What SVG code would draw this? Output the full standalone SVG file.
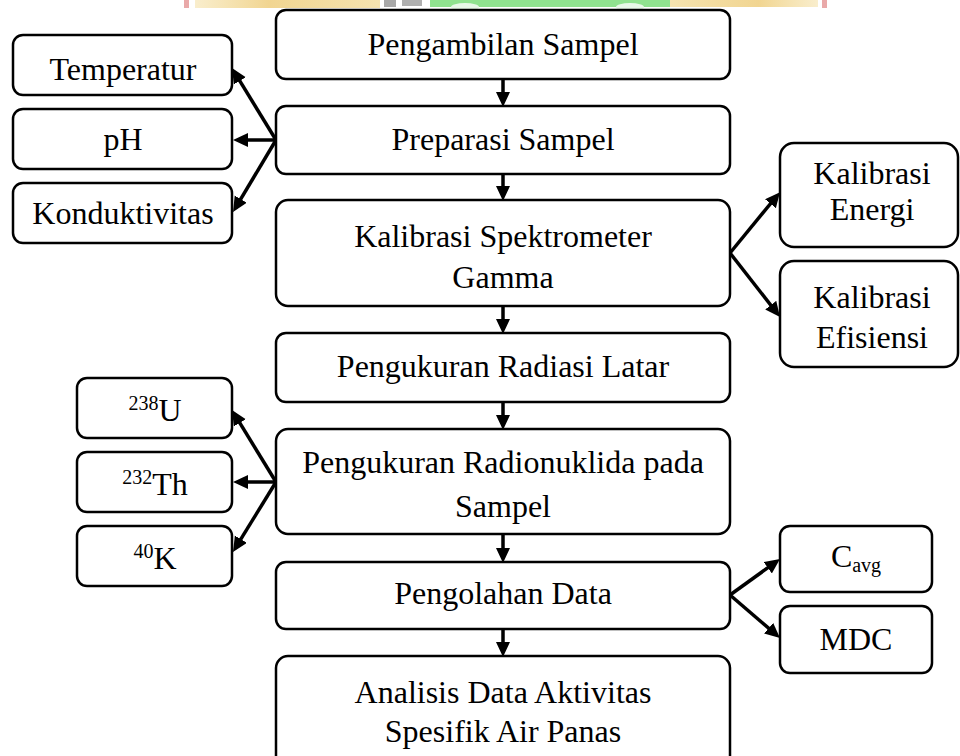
<svg xmlns="http://www.w3.org/2000/svg" width="960" height="756" viewBox="0 0 960 756">
<defs>
<style>
.box{fill:#fff;stroke:#000;stroke-width:2.5}
.t{font-family:"Liberation Serif","Times New Roman",serif;font-size:32px;fill:#000;text-anchor:middle}
.c{stroke:#000;stroke-width:3.5;fill:none;marker-end:url(#ah)}
</style>
<marker id="ah" markerUnits="userSpaceOnUse" markerWidth="15" markerHeight="15" refX="10" refY="7" orient="auto">
<path d="M0,0 L15,7 L0,14 z" fill="#000"/>
</marker>
<linearGradient id="tan1" x1="0" x2="1" y1="0" y2="0">
<stop offset="0" stop-color="#f3dc9a" stop-opacity="0.5"/>
<stop offset="0.4" stop-color="#f1d591"/>
<stop offset="1" stop-color="#f5e3b0"/>
</linearGradient>
<linearGradient id="tan2" x1="0" x2="1" y1="0" y2="0">
<stop offset="0" stop-color="#f5e3b0"/>
<stop offset="0.6" stop-color="#f1d591"/>
<stop offset="1" stop-color="#f3dc9a" stop-opacity="0.5"/>
</linearGradient>
</defs>
<rect width="960" height="756" fill="#fff"/>
<g id="watermark">
<rect x="184" y="0" width="5" height="8" fill="#e9a9a9"/>
<rect x="195" y="0" width="185" height="8" fill="url(#tan1)"/>
<rect x="384" y="0" width="12" height="7" fill="#a8a8a8"/>
<rect x="402" y="0" width="20" height="6" fill="#b0b0b0"/>
<rect x="430" y="0" width="240" height="7" fill="#90e28f"/>
<ellipse cx="465" cy="7" rx="14" ry="4" fill="#e8f8e8"/>
<ellipse cx="630" cy="7" rx="14" ry="4" fill="#e8f8e8"/>
<rect x="670" y="0" width="148" height="7" fill="url(#tan2)"/>
<rect x="822" y="0" width="5" height="8" fill="#e9a9a9"/>
</g>
<g id="connectors">
<line class="c" x1="503" y1="79" x2="503" y2="102"/>
<line class="c" x1="503" y1="174" x2="503" y2="196"/>
<line class="c" x1="503" y1="306" x2="503" y2="329"/>
<line class="c" x1="503" y1="402" x2="503" y2="425"/>
<line class="c" x1="503" y1="534" x2="503" y2="558"/>
<line class="c" x1="503" y1="629" x2="503" y2="652"/>
<line class="c" x1="276" y1="140" x2="234.6" y2="72.3"/>
<line class="c" x1="276" y1="140" x2="238" y2="140"/>
<line class="c" x1="276" y1="140" x2="235.6" y2="207.7"/>
<line class="c" x1="276" y1="482" x2="234.6" y2="414.3"/>
<line class="c" x1="276" y1="482" x2="238" y2="482"/>
<line class="c" x1="276" y1="482" x2="235.6" y2="547.7"/>
<line class="c" x1="730" y1="253" x2="776.8" y2="196"/>
<line class="c" x1="730" y1="253" x2="776.9" y2="313"/>
<line class="c" x1="730" y1="595" x2="775.9" y2="561.9"/>
<line class="c" x1="730" y1="595" x2="776.2" y2="634.7"/>
</g>
<g id="pengambilan"><rect class="box" x="276" y="10" width="454" height="69" rx="10"/><text class="t" x="503" y="55">Pengambilan Sampel</text></g>
<g id="preparasi"><rect class="box" x="276" y="106" width="454" height="68" rx="10"/><text class="t" x="503" y="150">Preparasi Sampel</text></g>
<g id="kalibrasi"><rect class="box" x="276" y="200" width="454" height="106" rx="12"/><text class="t" x="503" y="247">Kalibrasi Spektrometer</text><text class="t" x="503" y="288">Gamma</text></g>
<g id="radiasi"><rect class="box" x="276" y="333" width="454" height="69" rx="10"/><text class="t" x="503" y="377">Pengukuran Radiasi Latar</text></g>
<g id="radionuklida"><rect class="box" x="276" y="429" width="454" height="105" rx="12"/><text class="t" x="503" y="473">Pengukuran Radionuklida pada</text><text class="t" x="503" y="517">Sampel</text></g>
<g id="pengolahan"><rect class="box" x="276" y="562" width="454" height="67" rx="10"/><text class="t" x="503" y="604">Pengolahan Data</text></g>
<g id="analisis"><rect class="box" x="276" y="656" width="454" height="112" rx="12"/><text class="t" x="503" y="703">Analisis Data Aktivitas</text><text class="t" x="503" y="742">Spesifik Air Panas</text></g>
<g id="temperatur"><rect class="box" x="13" y="35" width="219" height="60" rx="10"/><text class="t" x="123" y="80">Temperatur</text></g>
<g id="ph"><rect class="box" x="13" y="109" width="219" height="60" rx="10"/><text class="t" x="123" y="150">pH</text></g>
<g id="konduktivitas"><rect class="box" x="13" y="183" width="219" height="60" rx="10"/><text class="t" x="123" y="224">Konduktivitas</text></g>
<g id="u238"><rect class="box" x="77" y="378" width="155" height="60" rx="10"/><text class="t" x="155" y="421"><tspan font-size="20" dy="-11">238</tspan><tspan dy="11">U</tspan></text></g>
<g id="th232"><rect class="box" x="77" y="452" width="155" height="60" rx="10"/><text class="t" x="155" y="495"><tspan font-size="20" dy="-11">232</tspan><tspan dy="11">Th</tspan></text></g>
<g id="k40"><rect class="box" x="77" y="526" width="155" height="60" rx="10"/><text class="t" x="155" y="569"><tspan font-size="20" dy="-11">40</tspan><tspan dy="11">K</tspan></text></g>
<g id="energi"><rect class="box" x="780" y="143" width="178" height="104" rx="14"/><text class="t" x="872" y="184">Kalibrasi</text><text class="t" x="872" y="220">Energi</text></g>
<g id="efisiensi"><rect class="box" x="780" y="261" width="178" height="106" rx="14"/><text class="t" x="872" y="308">Kalibrasi</text><text class="t" x="872" y="348">Efisiensi</text></g>
<g id="cavg"><rect class="box" x="780" y="526" width="152" height="66" rx="10"/><text class="t" x="856" y="567">C<tspan font-size="20" dy="5">avg</tspan></text></g>
<g id="mdc"><rect class="box" x="780" y="606" width="152" height="67" rx="10"/><text class="t" x="856" y="650">MDC</text></g>
</svg>
